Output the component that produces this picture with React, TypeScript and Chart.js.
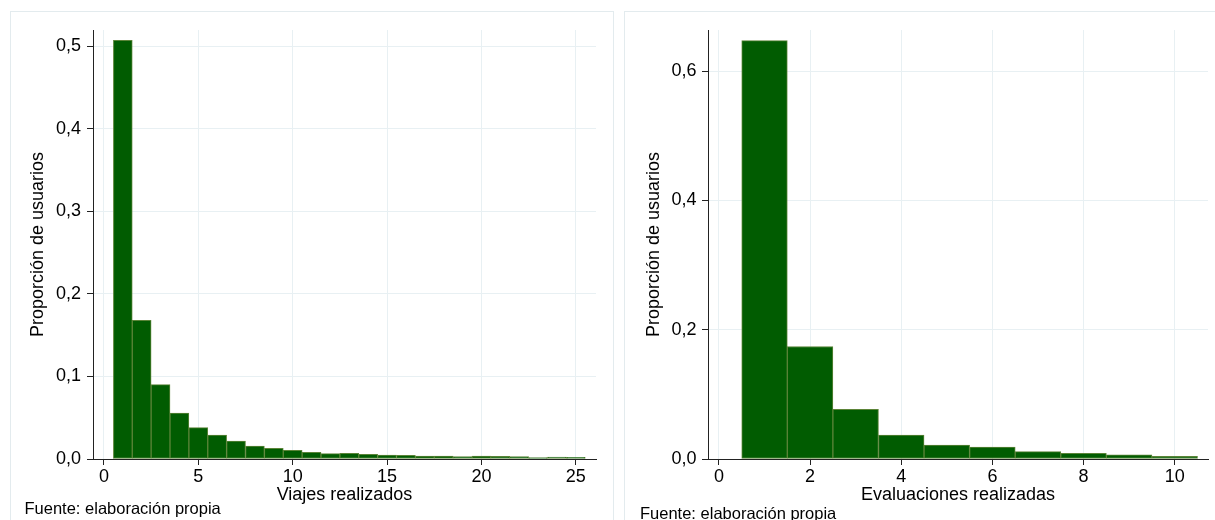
import { useEffect, useRef } from "react";
import { Chart, registerables } from "chart.js";

Chart.register(...registerables);

// ---- Data: left panel (trips) ----
const tripBins = [1, 2, 3, 4, 5, 6, 7, 8, 9, 10, 11, 12, 13, 14, 15, 16, 17, 18, 19, 20, 21, 22, 23, 24, 25];
const tripShares = [
  0.507, 0.168, 0.09, 0.0555, 0.038, 0.029, 0.0218, 0.0157, 0.0129, 0.0104, 0.0082, 0.0065, 0.0068,
  0.0056, 0.0048, 0.0044, 0.0036, 0.0036, 0.0028, 0.0036, 0.0032, 0.0028, 0.0016, 0.0024, 0.002,
];
const tripXTicks = [0, 5, 10, 15, 20, 25];
const tripYTicks = [0, 0.1, 0.2, 0.3, 0.4, 0.5];
const tripYLabels = ["0,0", "0,1", "0,2", "0,3", "0,4", "0,5"];

// ---- Data: right panel (evaluations) ----
const evalBins = [1, 2, 3, 4, 5, 6, 7, 8, 9, 10];
const evalShares = [0.647, 0.174, 0.077, 0.037, 0.0216, 0.0185, 0.0113, 0.0087, 0.0066, 0.0041];
const evalXTicks = [0, 2, 4, 6, 8, 10];
const evalYTicks = [0, 0.2, 0.4, 0.6];
const evalYLabels = ["0,0", "0,2", "0,4", "0,6"];

// ---- Text ----
const yTitle = "Proporción de usuarios";
const tripXTitle = "Viajes realizados";
const evalXTitle = "Evaluaciones realizadas";
const noteText = "Fuente: elaboración propia";

const FONT = "'Liberation Sans', Arial, Helvetica, sans-serif";
const FILL = "#015c01";
const EDGE = "#5b8438";
const GRID = "#e8f0f3";
const AXIS = "#222222";
const TEXT = "#000000";
const PANEL = "#e3ebee";
const TICK_SIZE = 18;
const TITLE_SIZE = 18;

type PanelSpec = {
  bins: number[];
  shares: number[];
  xTicks: number[];
  xMin: number;
  xMax: number;
  yTicks: number[];
  yLabels: string[];
  yMax: number;
  xTitle: string;
  yAxisWidth: number;
  padRight: number;
  yTitleOffset: number;
  yTickPad: number;
};

function buildChart(canvas: HTMLCanvasElement, p: PanelSpec) {
  return new Chart(canvas, {
    type: "bar",
    data: {
      datasets: [
        {
          data: p.bins.map((b, i) => ({ x: b, y: p.shares[i] })),
          backgroundColor: FILL,
          borderColor: EDGE,
          borderWidth: 1,
          borderSkipped: false,
          barPercentage: 1,
          categoryPercentage: 1,
        } as any,
      ],
    },
    options: {
      responsive: false,
      animation: false,
      devicePixelRatio: 1,
      layout: { padding: { left: 0, top: 30, right: p.padRight, bottom: 0 } },
      plugins: {
        legend: { display: false },
        tooltip: { enabled: false },
      },
      scales: {
        x: {
          type: "linear",
          min: p.xMin,
          max: p.xMax,
          offset: false,
          afterBuildTicks: (s: any) => {
            s.ticks = p.xTicks.map((v) => ({ value: v }));
          },
          afterFit: (s: any) => {
            s.height = 61;
          },
          ticks: {
            color: TEXT,
            font: { family: FONT, size: TICK_SIZE },
            padding: 1.7,
            autoSkip: false,
            maxRotation: 0,
            callback: (v: any) => String(v),
          },
          grid: {
            offset: false,
            color: GRID,
            lineWidth: 1,
            drawTicks: true,
            tickLength: 6,
            tickColor: AXIS,
            tickWidth: 1,
          },
          border: { display: true, color: AXIS, width: 1 },
          title: {
            display: true,
            text: p.xTitle,
            color: TEXT,
            font: { family: FONT, size: TITLE_SIZE },
            padding: { top: 0, bottom: 14.5 },
          },
        },
        y: {
          type: "linear",
          min: 0,
          max: p.yMax,
          afterBuildTicks: (s: any) => {
            s.ticks = p.yTicks.map((v) => ({ value: v }));
          },
          afterFit: (s: any) => {
            s.width = p.yAxisWidth;
          },
          ticks: {
            color: TEXT,
            font: { family: FONT, size: TICK_SIZE },
            padding: p.yTickPad,
            autoSkip: false,
            callback: (_v: any, i: number) => p.yLabels[i],
          },
          grid: {
            offset: false,
            color: GRID,
            lineWidth: 1,
            drawTicks: true,
            tickLength: 6,
            tickColor: AXIS,
            tickWidth: 1,
          },
          border: { display: true, color: AXIS, width: 1 },
          title: {
            display: true,
            text: yTitle,
            color: TEXT,
            font: { family: FONT, size: TITLE_SIZE },
            padding: { top: p.yTitleOffset, bottom: 0 },
          },
        },
      },
    } as any,
  });
}

export default function App() {
  const leftRef = useRef<HTMLCanvasElement>(null);
  const rightRef = useRef<HTMLCanvasElement>(null);

  useEffect(() => {
    const charts: Chart[] = [];
    if (leftRef.current) {
      charts.push(
        buildChart(leftRef.current, {
          bins: tripBins,
          shares: tripShares,
          xTicks: tripXTicks,
          xMin: -0.58,
          xMax: 26.07,
          yTicks: tripYTicks,
          yLabels: tripYLabels,
          yMax: 0.5194,
          xTitle: tripXTitle,
          yAxisWidth: 93,
          padRight: 22,
          yTitleOffset: 27.7,
          yTickPad: 6,
        })
      );
    }
    if (rightRef.current) {
      charts.push(
        buildChart(rightRef.current, {
          bins: evalBins,
          shares: evalShares,
          xTicks: evalXTicks,
          xMin: -0.24,
          xMax: 10.73,
          yTicks: evalYTicks,
          yLabels: evalYLabels,
          yMax: 0.6635,
          xTitle: evalXTitle,
          yAxisWidth: 90,
          padRight: 7,
          yTitleOffset: 25.2,
          yTickPad: 5.5,
        })
      );
    }
    return () => charts.forEach((c) => c.destroy());
  }, []);

  const noteStyle = {
    position: "absolute" as const,
    fontFamily: FONT,
    fontSize: 16.5,
    lineHeight: "16px",
    color: TEXT,
    whiteSpace: "nowrap" as const,
  };

  return (
    <div
      style={{
        position: "absolute",
        left: 0,
        top: 0,
        width: 1215,
        height: 520,
        overflow: "hidden",
        background: "#ffffff",
      }}
    >
      <div
        style={{
          position: "absolute",
          left: 10,
          top: 11,
          width: 602,
          height: 560,
          border: `1px solid ${PANEL}`,
        }}
      />
      <div
        style={{
          position: "absolute",
          left: 624,
          top: 11,
          width: 700,
          height: 560,
          border: `1px solid ${PANEL}`,
        }}
      />
      <canvas
        ref={leftRef}
        width={618}
        height={520}
        style={{ position: "absolute", left: 0, top: 0, width: 618, height: 520 }}
      />
      <canvas
        ref={rightRef}
        width={597}
        height={520}
        style={{ position: "absolute", left: 618, top: 0, width: 597, height: 520 }}
      />
      <div style={{ ...noteStyle, left: 24.5, top: 500 }}>{noteText}</div>
      <div style={{ ...noteStyle, left: 640, top: 505 }}>{noteText}</div>
    </div>
  );
}
